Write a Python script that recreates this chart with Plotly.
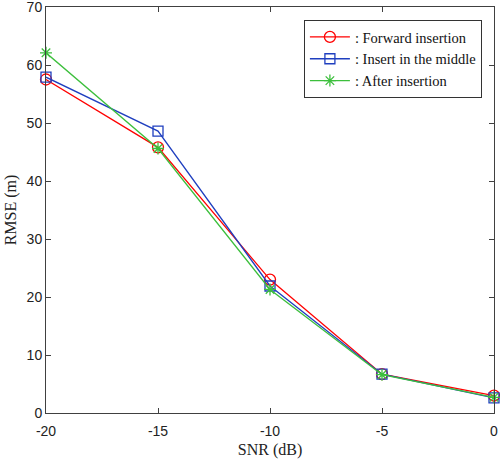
import plotly.graph_objects as go

snr = [-20, -15, -10, -5, 0]
snr_labels = ["-20", "-15", "-10", "-5", "0"]
rmse_ticks = [0, 10, 20, 30, 40, 50, 60, 70]
forward = [57.5, 45.8, 23.0, 6.7, 3.0]
middle = [57.9, 48.6, 21.9, 6.7, 2.6]
after = [62.1, 45.6, 21.3, 6.6, 2.7]

fig = go.Figure()
fig.add_trace(go.Scatter(x=snr, y=forward, mode="lines+markers", name=": Forward insertion",
                         line=dict(color="#ff0000", width=1.3), cliponaxis=False,
                         marker=dict(symbol="circle-open", size=11, color="#ff0000", line=dict(width=1.3))))
fig.add_trace(go.Scatter(x=snr, y=middle, mode="lines+markers", name=": Insert in the middle",
                         line=dict(color="#1f3fbf", width=1.3), cliponaxis=False,
                         marker=dict(symbol="square-open", size=10, color="#1f3fbf", line=dict(width=1.3))))
fig.add_trace(go.Scatter(x=snr, y=after, mode="lines+markers", name=": After insertion",
                         line=dict(color="#3cbf3c", width=1.3), cliponaxis=False,
                         marker=dict(symbol="asterisk-open", size=10, color="#3cbf3c", line=dict(width=1.3))))

axis_common = dict(showgrid=False, zeroline=False, showline=True, mirror="ticks",
                   linecolor="#404040", linewidth=1, ticks="inside", ticklen=5,
                   tickcolor="#404040", automargin=False, ticklabeloverflow="allow",
                   tickfont=dict(family="Liberation Sans, Arial", size=14, color="#222"))

fig.update_layout(
    width=500, height=469,
    margin=dict(l=46, r=6, t=7, b=56),
    paper_bgcolor="white", plot_bgcolor="white",
    xaxis=dict(range=[-20, 0], tickmode="array", tickvals=snr, ticktext=snr_labels,
               ticklabelstandoff=5,
               title=dict(text="SNR (dB)", font=dict(family="Liberation Serif, Times New Roman", size=16, color="#222"), standoff=6),
               **axis_common),
    yaxis=dict(range=[0, 70], tickmode="array", tickvals=rmse_ticks, ticktext=[str(v) for v in rmse_ticks],
               title=dict(text="RMSE (m)", font=dict(family="Liberation Serif, Times New Roman", size=16, color="#222"), standoff=6),
               **axis_common),
    legend=dict(x=0.973, y=0.968, xanchor="right", yanchor="top",
                bgcolor="white", bordercolor="#333", borderwidth=1,
                font=dict(family="Liberation Serif, Times New Roman", size=14.5, color="#111"),
                tracegroupgap=0, itemwidth=40),
    showlegend=True,
)

fig.write_html("out.html", config={"displayModeBar": False},
               post_script="document.body.style.margin='0';document.body.style.overflow='hidden';")
